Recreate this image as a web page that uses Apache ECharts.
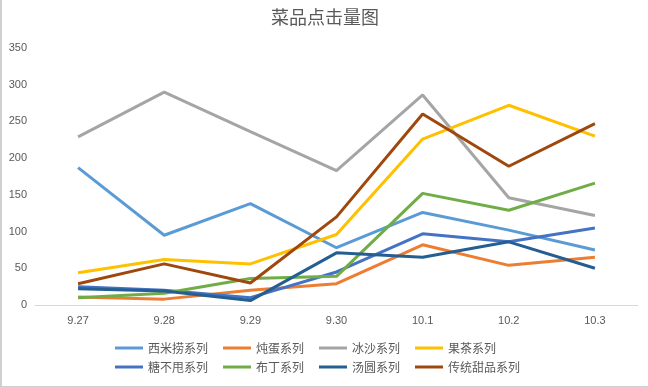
<!DOCTYPE html>
<html><head><meta charset="utf-8">
<script src="https://cdn.jsdelivr.net/npm/echarts@6/dist/echarts.min.js"></script>
<style>
html,body{margin:0;padding:0;background:#fff;}
#c{width:648px;height:387px;box-sizing:border-box;border-left:2px solid #D0D0D0;border-bottom:1px solid #D0D0D0;}
</style></head>
<body><div id="c"></div>
<script>
const categories = ['9.27','9.28','9.29','9.30','10.1','10.2','10.3'];
const seriesNames = ['西米捞系列','炖蛋系列','冰沙系列','果茶系列','糖不甩系列','布丁系列','汤圆系列','传统甜品系列'];
const ximilao   = [187, 95, 138, 78, 126, 102, 75];
const dundan    = [11, 8, 20, 29, 82, 54, 65];
const bingsha   = [229, 290, 236, 183, 286, 146, 122];
const guocha    = [44, 62, 56, 96, 226, 272, 230];
const tangbushuai = [25, 20, 10, 45, 97, 86, 105];
const buding    = [10, 16, 36, 39, 152, 129, 166];
const tangyuan  = [22, 19, 6, 71, 65, 86, 50];
const chuantong = [29, 56, 30, 120, 260, 189, 247];
const yTicks = [0, 50, 100, 150, 200, 250, 300, 350];

const values = [ximilao, dundan, bingsha, guocha, tangbushuai, buding, tangyuan, chuantong];
const colors = ['#5B9BD5','#ED7D31','#A5A5A5','#FFC000','#4472C4','#70AD47','#255E91','#9E480E'];

const chart = echarts.init(document.getElementById('c'));
const legendBase = {
  orient: 'horizontal', left: 108, itemWidth: 28, itemHeight: 3, itemGap: 15,
  icon: 'rect',
  textStyle: {fontSize: 12, color: '#595959', width: 70, fontFamily: 'Noto Sans CJK SC'}
};
chart.setOption({
  animation: false,
  color: colors,
  title: {text: '菜品点击量图', left: 'center', top: 3,
    textStyle: {fontSize: 18, fontWeight: 'normal', color: '#595959', fontFamily: 'Noto Sans CJK SC'}},
  legend: [
    Object.assign({}, legendBase, {top: 337, data: seriesNames.slice(0,4)}),
    Object.assign({}, legendBase, {top: 356, data: seriesNames.slice(4,8)})
  ],
  grid: {left: 33, right: 10, top: 48, bottom: 81, containLabel: false},
  xAxis: {
    type: 'category', data: categories, boundaryGap: true,
    axisLine: {lineStyle: {color: '#D9D9D9', width: 1}},
    axisTick: {show: false},
    axisLabel: {color: '#595959', fontSize: 11, margin: 10, fontFamily: 'Liberation Sans'}
  },
  yAxis: {
    type: 'value', min: yTicks[0], max: yTicks[yTicks.length-1], interval: 50,
    axisLine: {show: false}, axisTick: {show: false},
    splitLine: {show: false},
    axisLabel: {color: '#595959', fontSize: 11, margin: 8, fontFamily: 'Liberation Sans'}
  },
  series: seriesNames.map((n, i) => ({
    name: n, type: 'line', data: values[i], symbol: 'none',
    lineStyle: {width: 3, color: colors[i]}, itemStyle: {color: colors[i]}
  }))
});
</script></body></html>
